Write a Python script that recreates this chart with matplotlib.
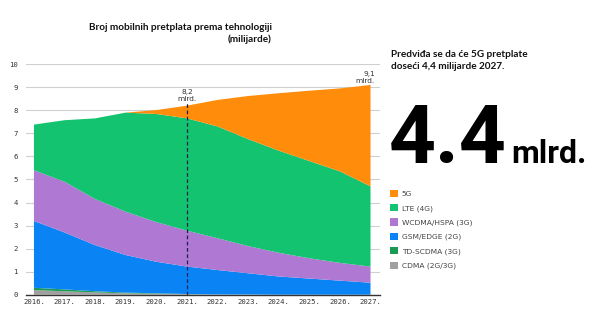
import numpy as np
import matplotlib.pyplot as plt

years = [2016, 2017, 2018, 2019, 2020, 2021, 2022, 2023, 2024, 2025, 2026, 2027]
year_labels = [str(y) + "." for y in years]

cdma = [0.20, 0.15, 0.10, 0.06, 0.04, 0.02, 0.01, 0.01, 0.0, 0.0, 0.0, 0.0]
tdscdma = [0.10, 0.08, 0.05, 0.03, 0.02, 0.01, 0.0, 0.0, 0.0, 0.0, 0.0, 0.0]
gsm = [2.90, 2.47, 2.00, 1.63, 1.37, 1.19, 1.06, 0.92, 0.79, 0.70, 0.61, 0.52]
wcdma = [2.20, 2.20, 2.00, 1.88, 1.72, 1.56, 1.38, 1.18, 1.03, 0.88, 0.77, 0.70]
lte = [1.98, 2.67, 3.50, 4.30, 4.69, 4.87, 4.85, 4.64, 4.43, 4.22, 3.97, 3.48]
g5 = [0.0, 0.0, 0.0, 0.0, 0.17, 0.55, 1.15, 1.87, 2.49, 3.05, 3.60, 4.40]

labels = ["CDMA (2G/3G)", "TD-SCDMA (3G)", "GSM/EDGE (2G)", "WCDMA/HSPA (3G)", "LTE (4G)", "5G"]
colors = ["#a0a0a0", "#1b9a55", "#0a84f5", "#af78d2", "#13c370", "#ff8c0a"]

marker_year = 2021
marker_text = "8,2\nmlrd."
end_text = "9,1\nmlrd."

fig = plt.figure(figsize=(5.92, 3.24), dpi=100)
ax = fig.add_axes([26 / 592, 29.3 / 324, 354 / 592, 230.5 / 324])

polys = ax.stackplot(years, cdma, tdscdma, gsm, wcdma, lte, g5, colors=colors,
                     labels=labels, linewidth=0, zorder=2)

ax.set_xlim(2015.74, 2027.31)
ax.set_ylim(0, 10)
ax.set_yticks(np.arange(0, 11, 1))
ax.set_xticks(years)
ax.set_xticklabels(year_labels)
ax.yaxis.grid(True, color="#d0d0d0", linewidth=0.8, zorder=0)
ax.set_axisbelow(True)
for s in ["top", "right", "left"]:
    ax.spines[s].set_visible(False)
ax.spines["bottom"].set_color("#333333")
ax.spines["bottom"].set_linewidth(1.0)
ax.spines["bottom"].set_zorder(3)
ax.tick_params(axis="both", length=0, labelsize=5.2, labelcolor="#333333")
ax.tick_params(axis="y", pad=6)
ax.tick_params(axis="x", pad=3)
for t in ax.get_xticklabels() + ax.get_yticklabels():
    t.set_family("DejaVu Sans Mono")

total = np.array(cdma) + tdscdma + gsm + wcdma + lte + g5
i = years.index(marker_year)
ax.plot([marker_year, marker_year], [0, total[i] + 0.1], color="#1f1f4f",
        linestyle=(0, (3, 2)), linewidth=0.9, zorder=4)
ax.text(marker_year, total[i] + 0.15, marker_text, ha="center", va="bottom",
        fontsize=5.3, color="#333333", linespacing=1.2)
ax.text(years[-1] + 0.15, total[-1] + 0.05, end_text, ha="right", va="bottom",
        fontsize=5.3, color="#333333", linespacing=1.2, clip_on=False)

fig.text(272 / 592, 1 - 23 / 324, "Broj mobilnih pretplata prema tehnologiji\n(milijarde)",
         ha="right", va="top", fontsize=7.2, fontweight="bold", family="Lato",
         multialignment="right", color="#111111", linespacing=1.35)

fig.text(391 / 592, 1 - 50 / 324, "Predviđa se da će 5G pretplate\ndoseći 4,4 milijarde 2027.",
         ha="left", va="top", fontsize=7.2, fontweight="bold", family="Lato",
         color="#111111", linespacing=1.4)

fig.text(389 / 592, 1 - 163 / 324, "4.4", ha="left", va="baseline", fontsize=59,
         fontweight="bold", family="Roboto", color="#000000")
fig.text(511 / 592, 1 - 163 / 324, "mlrd.", ha="left", va="baseline", fontsize=23,
         fontweight="bold", family="Roboto", color="#000000")

handles = polys[::-1]
fig.legend(handles, labels[::-1], loc="upper left", bbox_to_anchor=(390 / 592, 1 - 190 / 324),
           frameon=False, fontsize=5.4, labelcolor="#444444", handlelength=1.1,
           handleheight=1.1, handletextpad=0.45, labelspacing=0.9, borderpad=0,
           borderaxespad=0)

fig.savefig("out.png", dpi=100)
